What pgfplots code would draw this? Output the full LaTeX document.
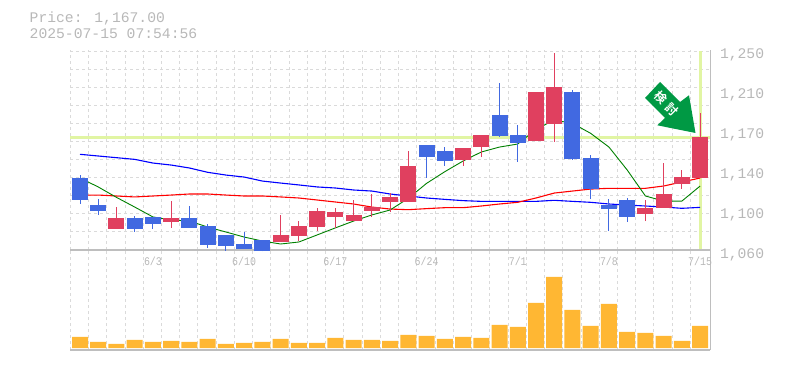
\documentclass[border=0pt]{standalone}
\usepackage{pgfplots}
\pgfplotsset{compat=1.18}
\usepackage{pgfplotstable}
\usepackage{fontspec}
\setmainfont{Liberation Mono}
\newfontfamily\xlab[FakeStretch=0.85]{Liberation Mono}
\newfontfamily\cjk{Noto Sans CJK JP}[BoldFont={* Bold}]
\definecolor{upc}{HTML}{E0405F}
\definecolor{dnc}{HTML}{4169E1}
\definecolor{limec}{HTML}{E1F5A3}
\definecolor{gridc}{HTML}{DADADA}
\definecolor{framec}{HTML}{BEBEBE}
\definecolor{labc}{HTML}{B8B8B8}
\definecolor{volc}{HTML}{FFB733}
\definecolor{arrowc}{HTML}{009944}

% i top bottom high low
\pgfplotstableread{
i top bot hi lo
2 1090.4 1080.0 1100.8 1080.0
5 1090.4 1086.6 1106.5 1081.0
11 1074.3 1067.6 1093.3 1067.6
12 1082.8 1073.3 1087.5 1068.6
13 1097.0 1081.8 1099.9 1078.0
14 1096.1 1091.4 1099.9 1081.0
15 1093.3 1087.5 1107.5 1087.5
16 1100.8 1097.0 1113.2 1091.4
17 1110.4 1105.6 1114.2 1096.1
18 1139.8 1105.6 1154.0 1105.6
21 1156.9 1145.5 1156.9 1139.8
22 1169.2 1157.8 1169.2 1148.3
25 1210.1 1163.5 1210.1 1163.5
26 1214.9 1179.7 1247.2 1162.6
31 1099.9 1094.2 1107.5 1087.5
32 1113.2 1099.9 1142.6 1099.9
33 1129.4 1122.7 1136.0 1118.0
34 1167.3 1128.4 1190.2 1128.4
}\upcandles
\pgfplotstableread{
i top bot hi lo
0 1128.4 1107.5 1131.2 1103.7
1 1102.8 1097.0 1108.4 1093.3
3 1090.4 1080.0 1092.3 1077.1
4 1091.4 1084.7 1091.4 1080.0
6 1090.4 1081.0 1101.8 1081.0
7 1082.8 1064.8 1084.7 1061.9
8 1074.3 1063.8 1074.3 1059.4
9 1065.7 1061.0 1077.1 1061.0
10 1069.5 1058.7 1069.5 1058.7
19 1159.8 1148.3 1159.8 1128.4
20 1154.0 1144.5 1157.8 1139.8
23 1188.3 1168.3 1218.6 1167.3
24 1169.2 1161.6 1178.7 1143.6
27 1210.1 1146.4 1212.0 1145.5
28 1147.4 1117.9 1150.3 1108.4
29 1102.7 1098.9 1108.4 1078.0
30 1107.5 1091.4 1109.4 1086.6
}\dncandles
\pgfplotstableread{
i ma
0 1150.9
1 1149.3
2 1147.7
3 1146.1
4 1142.6
5 1140.7
6 1137.9
7 1133.8
8 1131.2
9 1129.3
10 1125.5
11 1123.6
12 1121.8
13 1119.9
14 1118.9
15 1117.0
16 1116.0
17 1113.2
18 1111.3
19 1109.4
20 1108.1
21 1106.9
22 1106.2
23 1106.2
24 1106.2
25 1106.2
26 1107.2
27 1106.2
28 1105.3
29 1103.7
30 1102.7
31 1101.8
32 1100.8
33 1099.6
34 1100.5
}\maBlue
\pgfplotstableread{
i ma
0 1112.2
1 1112.2
2 1111.3
3 1110.4
4 1111.3
5 1112.2
6 1113.2
7 1113.2
8 1112.2
9 1111.3
10 1111.3
11 1110.4
12 1109.4
13 1107.5
14 1105.6
15 1103.7
16 1100.8
17 1098.9
18 1098.3
19 1099.3
20 1100.2
21 1100.2
22 1101.8
23 1103.7
24 1105.3
25 1109.4
26 1114.1
27 1116.0
28 1117.9
29 1118.6
30 1118.6
31 1118.6
32 1120.8
33 1124.6
34 1128.4
}\maRed
\pgfplotstableread{
i ma
0 1128.4
1 1119.9
2 1110.0
3 1100.8
4 1091.4
5 1088.5
6 1087.5
7 1081.8
8 1077.1
9 1072.3
10 1068.5
11 1065.7
12 1067.6
13 1074.3
14 1081.0
15 1087.5
16 1093.3
17 1098.0
18 1109.1
19 1123.3
20 1134.4
21 1144.5
22 1153.1
23 1157.8
24 1160.7
25 1174.6
26 1183.5
27 1180.3
28 1170.8
29 1157.8
30 1136.0
31 1111.3
32 1106.5
33 1106.5
34 1120.8
}\maGreen
\pgfplotstableread{
i v
0 11
1 6
2 4
3 8
4 6
5 7
6 6
7 9
8 4
9 5
10 6
11 9
12 5
13 5
14 10
15 8
16 8
17 7
18 13
19 12
20 9
21 11
22 10
23 23
24 21
25 45
26 71
27 38
28 22
29 44
30 16
31 15
32 12
33 7
34 22
}\volumes

\pgfplotsset{
  chartbase/.style={
    scale only axis, width=640pt,
    xmin=-0.532, xmax=34.556,
    axis line style={draw=none},
    tick style={draw=none},
    xtick={-0.532,0.468,1.468,2.468,3.468,4.468,5.468,6.468,7.468,8.468,9.468,10.468,11.468,12.468,13.468,14.468,15.468,16.468,17.468,18.468,19.468,20.468,21.468,22.468,23.468,24.468,25.468,26.468,27.468,28.468,29.468,30.468,31.468,32.468,33.468},
    xticklabels={},
    xmajorgrids,
    major grid style={draw=gridc, line width=1pt, dash pattern=on 3pt off 3pt},
    clip=false,
  },
}

\begin{document}
\begin{tikzpicture}[x=1pt,y=1pt]
\path[use as bounding box] (0,0) rectangle (785,370);
\node[anchor=west,text=labc,font=\fontsize{14.7pt}{15pt}\selectfont,inner sep=0pt] at (29.5,351.5) {Price: 1,167.00};
\node[anchor=west,text=labc,font=\fontsize{14.7pt}{15pt}\selectfont,inner sep=0pt] at (29.5,336.5) {2025-07-15 07:54:56};

% volume panel
\begin{axis}[chartbase, at={(70.3pt,20pt)}, anchor=south west, height=100pt,
  ymin=-2, ymax=98, ytick=\empty]
\addplot[draw=framec, line width=1.2pt, forget plot] coordinates {(-0.532,-2)(34.556,-2)};
\addplot[draw=framec, line width=1.2pt, forget plot] coordinates {(34.556,-2)(34.556,98)};
\addplot[ybar, bar width=16pt, bar shift=0pt, fill=volc, draw=none] table[x=i,y=v] {\volumes};
\end{axis}

% price panel
\begin{axis}[chartbase, at={(70.3pt,120pt)}, anchor=south west, height=200pt,
  ymin=1060, ymax=1250,
  ytick={1077.1,1094.2,1111.3,1128.4,1145.5,1162.6,1179.7,1196.8,1213.9,1231,1248.1},
  ymajorgrids, yticklabels={},
  extra x ticks={4,9,14,19,24,29,34},
  extra x tick labels={6/3,6/10,6/17,6/24,7/1,7/8,7/15},
  extra x tick style={grid=none, tick style={draw=none},
    ticklabel style={text=labc, font=\xlab\fontsize{11.7pt}{12pt}\selectfont, inner sep=0pt, yshift=-7pt, xshift=0pt}},
  extra y ticks={1060,1098,1136,1174,1212,1250},
  extra y tick labels={{1,060},{1,100},{1,140},{1,170},{1,210},{1,250}},
  extra y tick style={grid=none, yticklabel pos=right, tick style={draw=none},
    ticklabel style={text=labc, font=\fontsize{14.7pt}{15pt}\selectfont, inner sep=0pt, anchor=west, xshift=9.5pt, yshift=-5pt}},
]
\addplot[draw=framec, line width=1.2pt, forget plot] coordinates {(-0.532,1060)(34.556,1060)};
\addplot[draw=framec, line width=1.2pt, forget plot] coordinates {(34.556,1060)(34.556,1250)};
% latest price cross-hair
\addplot[draw=limec, line width=3pt, forget plot] coordinates {(-0.532,1167)(34.556,1167)};
\addplot[draw=limec, line width=3pt, forget plot] coordinates {(34.02,1061)(34.02,1249)};
% moving averages
\addplot[draw=blue, line width=1.1pt, forget plot] table[x=i,y=ma] {\maBlue};
\addplot[draw=red, line width=1.1pt, forget plot] table[x=i,y=ma] {\maRed};
\addplot[draw=green!50!black, line width=0.9pt, forget plot] table[x=i,y=ma] {\maGreen};
% candles: wicks and bodies
\pgfplotstablegetrowsof{\upcandles}\pgfmathtruncatemacro\nup{\pgfplotsretval-1}
\pgfplotsinvokeforeach{0,...,\nup}{
  \pgfplotstablegetelem{#1}{i}\of\upcandles\edef\ci{\pgfplotsretval}
  \pgfplotstablegetelem{#1}{top}\of\upcandles\edef\ct{\pgfplotsretval}
  \pgfplotstablegetelem{#1}{bot}\of\upcandles\edef\cb{\pgfplotsretval}
  \pgfplotstablegetelem{#1}{hi}\of\upcandles\edef\ch{\pgfplotsretval}
  \pgfplotstablegetelem{#1}{lo}\of\upcandles\edef\cl{\pgfplotsretval}
  \edef\temp{\noexpand\addplot[draw=upc, line width=1pt, forget plot] coordinates {(\ci,\cl)(\ci,\ch)};
    \noexpand\addplot[draw=upc, line width=16pt, forget plot] coordinates {(\ci,\cb)(\ci,\ct)};}
  \temp
}
\pgfplotstablegetrowsof{\dncandles}\pgfmathtruncatemacro\ndn{\pgfplotsretval-1}
\pgfplotsinvokeforeach{0,...,\ndn}{
  \pgfplotstablegetelem{#1}{i}\of\dncandles\edef\ci{\pgfplotsretval}
  \pgfplotstablegetelem{#1}{top}\of\dncandles\edef\ct{\pgfplotsretval}
  \pgfplotstablegetelem{#1}{bot}\of\dncandles\edef\cb{\pgfplotsretval}
  \pgfplotstablegetelem{#1}{hi}\of\dncandles\edef\ch{\pgfplotsretval}
  \pgfplotstablegetelem{#1}{lo}\of\dncandles\edef\cl{\pgfplotsretval}
  \edef\temp{\noexpand\addplot[draw=dnc, line width=1pt, forget plot] coordinates {(\ci,\cl)(\ci,\ch)};
    \noexpand\addplot[draw=dnc, line width=16pt, forget plot] coordinates {(\ci,\cb)(\ci,\ct)};}
  \temp
}
\end{axis}

% annotation arrow
\fill[arrowc] (695.5,237) -- (689,274.7) -- (680,268) -- (660,288) -- (645,272) -- (665,252) -- (657.3,244.7) -- cycle;
\node[rotate=-45,text=white,font=\cjk\bfseries\fontsize{12pt}{12pt}\selectfont,inner sep=0pt] at (666.2,266.5) {検\hspace{4pt}討};
\end{tikzpicture}
\end{document}
